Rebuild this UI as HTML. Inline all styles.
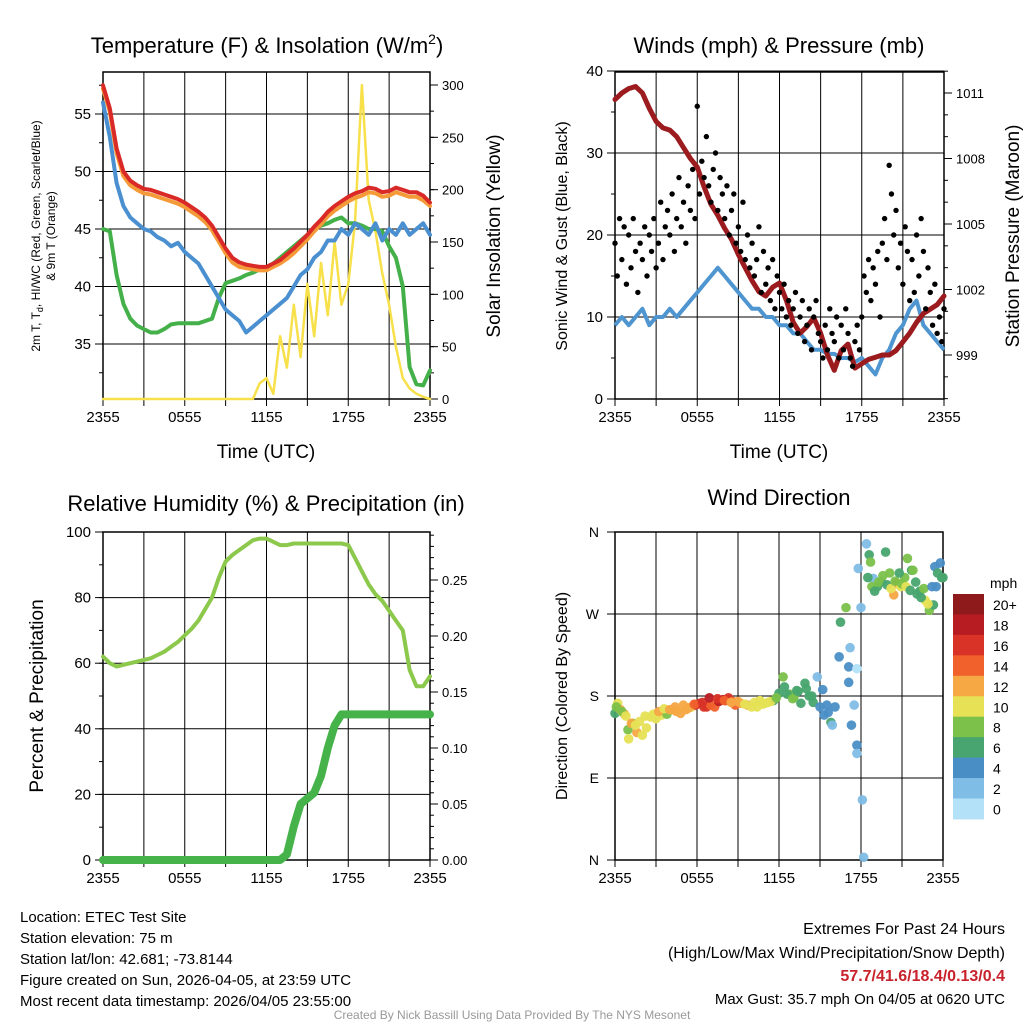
<!DOCTYPE html>
<html><head><meta charset="utf-8"><style>
html,body{margin:0;padding:0;background:#fff;}
svg{display:block;font-family:"Liberation Sans",Arial,sans-serif;}
</style></head><body>
<svg id="chart" width="1024" height="1024" viewBox="0 0 1024 1024" xmlns="http://www.w3.org/2000/svg">
<rect width="1024" height="1024" fill="#fff"/>
<g id="g1"></g>
<g id="g2"></g>
<g id="g3"></g>
<g id="g4"></g>
<text x="267" y="53" font-size="22" text-anchor="middle">Temperature (F) &amp; Insolation (W/m<tspan dy="-9" font-size="14">2</tspan><tspan dy="9">)</tspan></text>
<text x="779" y="53" font-size="22" text-anchor="middle">Winds (mph) &amp; Pressure (mb)</text>
<text x="266" y="511" font-size="22" text-anchor="middle">Relative Humidity (%) &amp; Precipitation (in)</text>
<text x="779" y="505" font-size="22" text-anchor="middle">Wind Direction</text>
<text x="266" y="458" font-size="19" text-anchor="middle">Time (UTC)</text>
<text x="779" y="458" font-size="19" text-anchor="middle">Time (UTC)</text>
<text transform="translate(40,236) rotate(-90)" font-size="12" text-anchor="middle">2m T, T<tspan dy="3" font-size="9">d</tspan><tspan dy="-3">, HI/WC (Red, Green, Scarlet/Blue)</tspan></text>
<text transform="translate(55,236) rotate(-90)" font-size="12" text-anchor="middle">&amp; 9m T (Orange)</text>
<text transform="translate(500,236) rotate(-90)" font-size="19" text-anchor="middle">Solar Insolation (Yellow)</text>
<text transform="translate(567,236) rotate(-90)" font-size="16" text-anchor="middle">Sonic Wind &amp; Gust (Blue, Black)</text>
<text transform="translate(1019,236) rotate(-90)" font-size="19" text-anchor="middle">Station Pressure (Maroon)</text>
<text transform="translate(43,696) rotate(-90)" font-size="19" text-anchor="middle">Percent &amp; Precipitation</text>
<text transform="translate(567,696) rotate(-90)" font-size="16" text-anchor="middle">Direction (Colored By Speed)</text>
<g font-size="15">
<text x="20" y="922">Location: ETEC Test Site</text>
<text x="20" y="943">Station elevation: 75 m</text>
<text x="20" y="964">Station lat/lon: 42.681; -73.8144</text>
<text x="20" y="985">Figure created on Sun, 2026-04-05, at 23:59 UTC</text>
<text x="20" y="1006">Most recent data timestamp: 2026/04/05 23:55:00</text>
</g>
<g font-size="16" text-anchor="end">
<text x="1005" y="934">Extremes For Past 24 Hours</text>
<text x="1005" y="958">(High/Low/Max Wind/Precipitation/Snow Depth)</text>
<text x="1005" y="981" fill="#c8232c" font-weight="bold">57.7/41.6/18.4/0.13/0.4</text>
<text x="1005" y="1004" font-size="15">Max Gust: 35.7 mph On 04/05 at 0620 UTC</text>
</g>
<text x="512" y="1019" font-size="12" fill="#999" text-anchor="middle">Created By Nick Bassill Using Data Provided By The NYS Mesonet</text>
</svg>
<script>
// ---- data ----
const timeTicks = ["2355","0555","1155","1755","2355"];
const tempT = [57.5,55.5,52,50,49.2,48.8,48.5,48.4,48.2,48,47.8,47.6,47.3,46.9,46.5,46,45.3,44.3,43.3,42.5,42.1,41.9,41.8,41.7,41.7,42,42.3,42.8,43.3,43.9,44.5,45.2,45.8,46.5,47,47.4,47.8,48.1,48.3,48.6,48.5,48.2,48.3,48.6,48.4,48.2,48.2,47.9,47.3];
const temp9m = [57.2,55.2,51.6,49.6,48.8,48.4,48.1,48,47.8,47.6,47.4,47.2,46.9,46.5,46.1,45.6,44.9,43.9,42.9,42.1,41.7,41.6,41.5,41.4,41.4,41.7,42,42.4,42.9,43.5,44.1,44.8,45.4,46.1,46.6,47,47.4,47.7,47.9,48.2,48.1,47.8,47.9,48.2,48,47.8,47.8,47.5,47];
const tempDew = [45,44.8,41,38.5,37.2,36.6,36.3,36,36,36.3,36.7,36.8,36.8,36.8,36.8,37,37.2,39,40.3,40.5,40.7,41,41.2,41.5,41.7,42,42.5,43,43.5,44,44.5,45,45.3,45.5,45.8,46,45.5,45.5,45.3,45,45,44.8,43.5,42.5,40,33,31.5,31.4,32.7];
const tempWC = [56,53,49,47,46,45.5,45,44.8,44.3,44,43.5,43.8,43,42.5,42,41,40,39,38,37.5,37,36,36.5,37,37.5,38,38.5,39,40,41,41.5,42.5,43,44,44,45,44.5,45.5,45,44.5,45.5,44,45,44.5,45.5,44.5,45,45.5,44.5];
const solar = [0,0,0,0,0,0,0,0,0,0,0,0,0,0,0,0,0,0,0,0,0,0,0,15,20,5,60,30,90,40,110,60,130,80,150,90,110,170,300,190,160,120,90,50,20,10,5,2,0];
const tempTicks = [35,40,45,50,55];
const solarTicks = [0,50,100,150,200,250,300];
const windSpeed = [9,10,9,10,11,9,10,10,11,10,11,12,13,14,15,16,15,14,13,12,11,11,10,10,9,9,8,8,7,6,6,5.5,5.5,5,5,4.5,5,4,3,5,6,8,9,11,12,9,8,7,6];
const windGust = [19,15,22,17,21,14,20,16,22,18,13,19,
17,21,15,20,18,22,16,19,24,17,21,23,
20,25,18,22,27,21,24,19,26,23,28,22,
35.7,25,29,27,32,26,24,28,30,23,27,25,
22,26,20,23,25,19,21,18,24,17,20,16,
19,15,17,21,13,18,14,16,12,17,11,15,
13,11,14,10,12,9,11,13,8,10,12,7,
9,11,6,10,12,8,7,5,9,6,11,8,
7,10,5,9,6,11,8,5,4,7,9,6,
10,15,13,17,12,16,14,18,10,19,22,17,
28.5,25,20,23,16,19,14,21,18,12,17,13,
20,15,22,18,11,16,13,9,14,8,10,7,11];
const pressure = [1010.7,1011,1011.2,1011.3,1011,1010.3,1009.7,1009.4,1009.3,1009,1008.5,1008,1007.6,1006.7,1005.9,1005.4,1004.8,1004.3,1003.6,1003,1002.4,1001.9,1001.7,1002.1,1002.3,1001.5,1000.5,1000,1000.3,1000.7,1000,999,998.3,999.2,999.5,998.4,998.6,998.8,998.9,999,999,999.2,999.6,1000,1000.5,1000.9,1001.1,1001.3,1001.7];
const windTicks = [0,10,20,30,40];
const presTicks = [999,1002,1005,1008,1011];
const rh = [62,60,59,59.5,60,60.5,61,61.5,62.5,63.5,65,66.5,68.5,70.5,73,76.5,80,86,91,93,94.5,96,97.5,98,98,97,96,96,96.5,96.5,96.5,96.5,96.5,96.5,96.5,96.5,96,92,88,84,81,79,76,73,70,58,53,53,56];
const precip = [0,0,0,0,0,0,0,0,0,0,0,0,0,0,0,0,0,0,0,0,0,0,0,0,0,0,0,0.005,0.03,0.05,0.055,0.06,0.075,0.1,0.12,0.13,0.13,0.13,0.13,0.13,0.13,0.13,0.13,0.13,0.13,0.13,0.13,0.13,0.13];
const rhTicks = [0,20,40,60,80,100];
const precipTicks = [0,0.05,0.1,0.15,0.2,0.25];
const dirHours = [0,0.2,0.4,0.7,0.95,1.0,1.3,1.6,2.0,2.3,2.6,3.0,3.4,3.8,4.2,4.5,4.8,5.2,5.6,5.9,6.2,6.5,6.7,7.0,7.3,7.6,7.9,8.1,8.3,8.6,8.8,9.2,9.7,10.0,10.4,10.8,11.2,11.6,12.0,12.3,12.4,12.8,13.1,13.4,13.6,13.9,14.2,14.5,14.8,15.0,15.3,15.6,15.8,15.9,16.1,16.4,16.5,16.9,17.1,17.2,17.3,17.1,17.5,17.7,17.7,17.7,18.1,18.2,18.0,17.8,18.4,18.6,18.7,18.9,19.2,19.5,19.8,20.1,20.4,20.6,20.9,21.2,21.4,21.7,22.0,22.3,22.7,23.0,23.3,23.5,23.8,23.9,
0.1,0.5,0.8,1.2,1.5,1.8,2.2,2.8,3.2,3.6,4.0,4.4,5.0,5.4,5.8,6.4,6.9,7.5,8.0,8.5,9.0,9.5,10.2,10.6,11.0,11.4,11.8,12.6,13.0,13.3,14.0,14.4,15.2,15.5,18.5,18.8,19.0,19.3,19.6,19.9,20.2,20.5,20.8,21.0,21.3,21.6,21.8,22.1,22.4,22.6,22.9,23.2,23.4,23.6,24.0];
const dirDeg = [161,172,165,160,143,133,150,140,137,145,157,155,159,160,165,163,161,165,168,170,172,168,168,170,168,174,176,175,178,174,170,172,170,168,168,171,173,175,183,201,190,182,179,185,172,194,180,173,201,168,159,162,151,148,168,223,261,277,212,233,148,195,170,126,210,117,66,3,277,320,347,335,327,309,300,305,338,315,291,304,300,310,331,318,305,295,285,274,280,300,326,310,
168,163,158,150,148,152,158,160,163,166,165,168,170,167,171,173,178,177,175,173,174,171,173,175,172,174,178,182,177,186,188,180,187,170,310,300,295,305,312,302,298,306,315,303,300,296,318,292,288,298,281,300,322,315,310];
const dirSpeed = [6,10,12,12,8,10,8,12,10,10,10,10,10,9,12,12,12,13,10,16,16,17,16,15,14,18,18,17,17,14,14,12,12,10,10,10,10,6,6,8,6,8,8,6,6,6,6,6,2,4,4,4,6,2,4,4,6,8,4,2,4,4,2,4,0,2,2,2,2,2,2,6,8,2,6,6,6,8,12,14,10,8,8,6,6,6,10,8,6,4,4,6,
8,8,10,12,10,10,10,10,12,10,12,12,13,12,14,16,18,16,14,12,12,10,10,10,10,10,8,6,8,6,6,6,4,4,6,8,6,8,8,6,10,8,6,8,10,6,8,6,6,8,10,4,4,6,6];
const cbLabels = ["20+","18","16","14","12","10","8","6","4","2","0"];
const cbColors = ["#8e1a1c","#b81c23","#d93327","#f0612b","#f5a844","#e6e155","#7bc14a","#48a56f","#4a8ec6","#7fbde6","#b3e2f8"];

const NS="http://www.w3.org/2000/svg";
function mk(parent,tag,attrs){const e=document.createElementNS(NS,tag);for(const k in attrs)e.setAttribute(k,attrs[k]);parent.appendChild(e);return e;}
function lin(d0,d1,r0,r1){return v=>r0+(v-d0)*(r1-r0)/(d1-d0);}
function xHourScale(L,R){return lin(0,24,L,R);}
function seriesPath(vals,xs,ys,step){return vals.map((v,i)=>(i?"L":"M")+xs(i*step).toFixed(1)+","+ys(v).toFixed(1)).join("");}

function frame(g,L,R,T,B,hticks,ys){
  for(let h=0;h<=24;h+=3){const x=xHourScale(L,R)(h);
    const ln=mk(g,"line",{x1:x,x2:x,y1:T,y2:B,stroke:"#000","stroke-width":1});
    
    
    mk(g,"line",{x1:x,x2:x,y1:B,y2:B+7,stroke:"#000","stroke-width":1});
  }
  hticks.forEach(v=>{const y=ys(v);
    const ln=mk(g,"line",{x1:L,x2:R,y1:y,y2:y,stroke:"#000","stroke-width":1});
    
    
  });
  const bx=mk(g,"rect",{x:L,y:T,width:R-L,height:B-T,fill:"none",stroke:"#000","stroke-width":1.5});
  
  
  timeTicks.forEach((t,i)=>{const x=L+i*(R-L)/4;
    const tx=mk(g,"text",{x:x,y:B+23,"font-size":15,"text-anchor":"middle"});tx.textContent=t;
    
    
  });
}
function yAxis(g,x,ticks,ys,side,fmt,minorStep,d0,d1,fs){
  ticks.forEach(v=>{const y=ys(v);
    mk(g,"line",{x1:x,x2:x+side*8,y1:y,y2:y,stroke:"#000","stroke-width":1});
    const tx=mk(g,"text",{x:x+side*12,y:y+5,"font-size":fs||15,"text-anchor":side<0?"end":"start"});
    tx.textContent=fmt(v);
    
    
  });
  if(minorStep){for(let v=Math.ceil(d0/minorStep)*minorStep;v<=d1+1e-9;v+=minorStep){const y=ys(v);mk(g,"line",{x1:x,x2:x+side*4,y1:y,y2:y,stroke:"#000","stroke-width":1});}}
}

// ---- Panel 1 ----
(function(){
  const g=document.getElementById("g1");const L=103,R=430,T=72,B=399;
  const xs=xHourScale(L,R);const ys=lin(35,55,344,114);const ss=lin(0,300,399,85);
  frame(g,L,R,T,B,tempTicks,ys);
  yAxis(g,L,tempTicks,ys,-1,v=>v,2.5,30.5,58,15);
  yAxis(g,R,solarTicks,ss,1,v=>v,25,0,300,13);
  const sets=[[solar,ss,"#f7e04a",2.5,"solar-line"],[tempDew,ys,"#44b049",4,"dewpoint-line"],[temp9m,ys,"#f59a38",4,"temp-9m-line"],[tempT,ys,"#d92a27",4,"temp-2m-line"],[tempWC,ys,"#4a90d0",4,"windchill-line"]];
  sets.forEach(s=>{const p=mk(g,"path",{d:seriesPath(s[0],xs,s[1],0.5),fill:"none",stroke:s[2],"stroke-width":s[3],"stroke-linejoin":"round","stroke-linecap":"round"});
    
    });
})();
// ---- Panel 2 ----
(function(){
  const g=document.getElementById("g2");const L=615,R=944,T=72,B=399;
  const xs=xHourScale(L,R);const ys=lin(0,40,399,71);const ps=lin(999,1011,355,93);
  frame(g,L,R,T,B,windTicks,ys);
  yAxis(g,L,windTicks,ys,-1,v=>v,5,0,40,15);
  yAxis(g,R,presTicks,ps,1,v=>v,1,997,1012,13);
  const w=mk(g,"path",{d:seriesPath(windSpeed,xs,ys,0.5),fill:"none",stroke:"#4f95d0","stroke-width":4,"stroke-linejoin":"round"});
  
  
  const p=mk(g,"path",{d:seriesPath(pressure,xs,ps,0.5),fill:"none",stroke:"#9b1b1e","stroke-width":5,"stroke-linejoin":"round","stroke-linecap":"round"});
  
  
  windGust.forEach((v,i)=>{const c=mk(g,"circle",{cx:xs(i/6),cy:ys(v),r:2.7,fill:"#000"});
    
    });
})();
// ---- Panel 3 ----
(function(){
  const g=document.getElementById("g3");const L=103,R=430,T=532,B=860;
  const xs=xHourScale(L,R);const ys=lin(0,100,860,532);const ps=lin(0,0.25,860,580);
  frame(g,L,R,T,B,rhTicks,ys);
  yAxis(g,L,rhTicks,ys,-1,v=>v,10,0,100,15);
  yAxis(g,R,precipTicks,ps,1,v=>v.toFixed(2),0.01,0,0.29,13);
  const r=mk(g,"path",{d:seriesPath(rh,xs,ys,0.5),fill:"none",stroke:"#8cc84b","stroke-width":4,"stroke-linejoin":"round","stroke-linecap":"round"});
  
  
  const q=mk(g,"path",{d:seriesPath(precip,xs,ps,0.5),fill:"none",stroke:"#46b24a","stroke-width":8,"stroke-linejoin":"round","stroke-linecap":"round"});
  
  
})();
// ---- Panel 4 ----
(function(){
  const g=document.getElementById("g4");const L=615,R=943,T=532,B=860;
  const xs=xHourScale(L,R);const ys=lin(0,360,860,532);
  const dt=[0,90,180,270,360];const dl=["N","E","S","W","N"];
  frame(g,L,R,T,B,dt,ys);
  dt.forEach((v,i)=>{const y=ys(v);mk(g,"line",{x1:L,x2:L-8,y1:y,y2:y,stroke:"#000"});
    const tx=mk(g,"text",{x:L-16,y:y+5,"font-size":14,"text-anchor":"end"});tx.textContent=dl[i];
    
    });
  function col(s){let idx=Math.min(10,Math.floor(s/2));return cbColors[10-idx];}
  dirDeg.forEach((d,i)=>{const c=mk(g,"circle",{cx:xs(dirHours[i]),cy:ys(d),r:4.8,fill:col(dirSpeed[i]),"fill-opacity":0.95});
    
    });
  const cb=mk(g,"g",{});
  
  
  const t=mk(cb,"text",{x:990,y:588,"font-size":14});t.textContent="mph";
  cbLabels.forEach((lab,i)=>{const y=594+i*20.45;
    mk(cb,"rect",{x:953,y:y,width:31,height:20.9,fill:cbColors[i]});
    const tx=mk(cb,"text",{x:993,y:y+16,"font-size":14});tx.textContent=lab;
    
    });
})();
</script>
</body></html>
